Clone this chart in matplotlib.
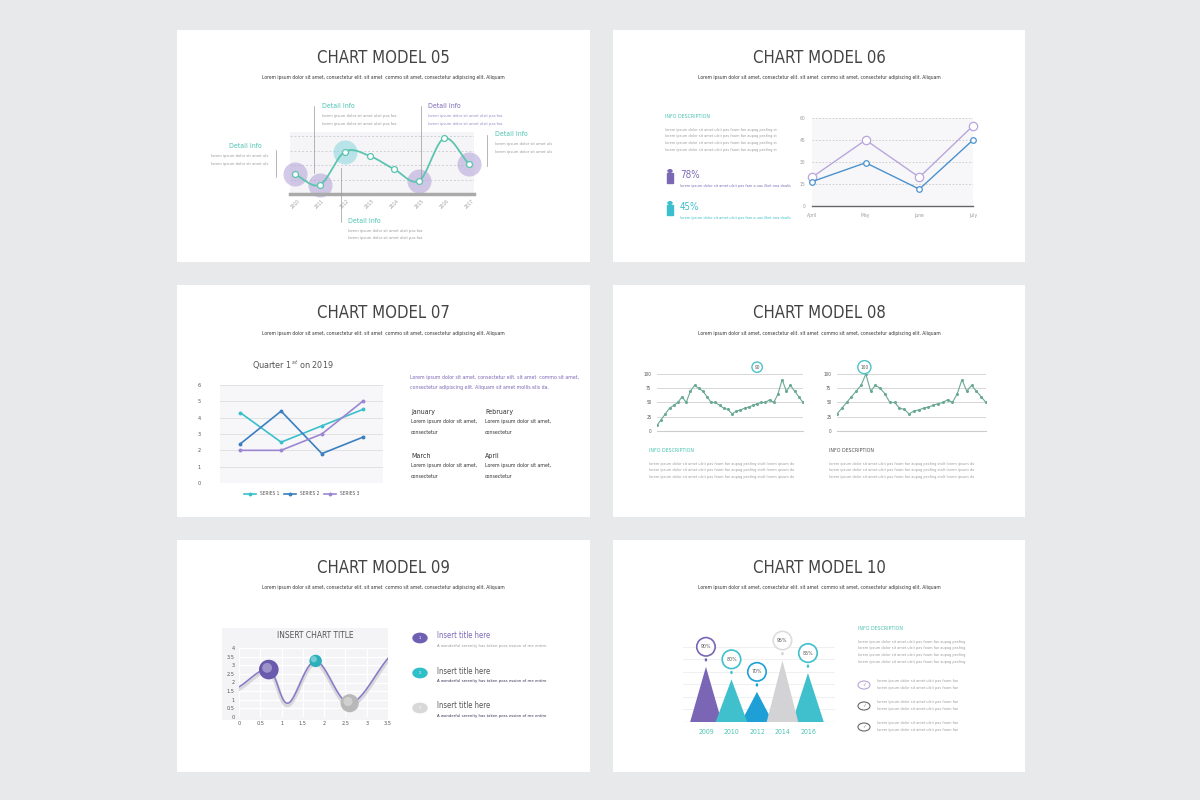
import matplotlib
matplotlib.use("Agg")
import matplotlib.pyplot as plt
import numpy as np
from matplotlib.patches import Rectangle, Polygon, Circle

plt.rcParams['font.family'] = ['DejaVu Sans']
plt.rcParams['font.stretch'] = 'condensed'

# ---------------- data ----------------
years05 = ['2010', '2011', '2012', '2013', '2014', '2015', '2016', '2017']
vals05 = [1.36, 0.64, 2.93, 2.64, 1.71, 0.93, 3.86, 2.07]

months06 = ['April', 'May', 'June', 'July']
purple06 = [19.6, 45, 19.6, 54.7]
blue06 = [16.6, 29.5, 11.5, 45]

cats07 = ['Jan', 'Feb', 'Mar', 'Apr']
series1_07 = [4.3, 2.5, 3.5, 4.5]
series2_07 = [2.4, 4.4, 1.8, 2.8]
series3_07 = [2.0, 2.0, 3.0, 5.0]

left08 = [10, 20, 30, 40, 45, 50, 60, 50, 70, 80, 75, 70, 60, 50, 50, 45, 40, 38, 30, 35,
          37, 40, 42, 45, 48, 50, 50, 55, 50, 65, 90, 70, 80, 70, 60, 50]
right08 = [30, 40, 50, 60, 70, 80, 100, 70, 80, 75, 65, 50, 50, 40, 38, 30, 35, 37, 40, 42,
           45, 48, 50, 55, 50, 65, 90, 70, 80, 70, 60, 50]

x09 = [0.0, 0.7, 1.15, 1.8, 2.6, 3.5]
y09 = [1.75, 2.75, 0.8, 3.25, 0.8, 3.4]
balls09_x = [0.7, 1.8, 2.6]
balls09_y = [2.75, 3.25, 0.8]

years10 = ['2009', '2010', '2012', '2014', '2016']
pct10 = [90, 80, 70, 95, 85]

# ---------------- colours ----------------
TEAL = '#4cc3b3'
CYAN = '#3bbfcc'
PURPLE = '#7b68b5'
BLUE = '#3a7fc0'
LPURP = '#b7a6d9'
GREY = '#555555'
LT = '#9a9a9a'

W, H = 1200, 800
fig = plt.figure(figsize=(12, 8), dpi=100)
fig.patch.set_facecolor('#e8e9eb')


def T(x, y, s, **kw):
    kw.setdefault('color', GREY)
    fig.text(x / W, 1 - y / H, s, **kw)


def AX(x0, y0, x1, y1):
    return fig.add_axes([x0 / W, 1 - y1 / H, (x1 - x0) / W, (y1 - y0) / H])


def FL(xs, ys, **kw):
    fig.add_artist(plt.Line2D([x / W for x in xs], [1 - y / H for y in ys], transform=fig.transFigure, **kw))


def lorem(x, y, n, width=40, ha='left', color=LT, size=3.0, gap=7.5):
    base = 'lorem ipsum dolor sit amet ulsit pas foam fae aupag pesfing stolt lorem ipsum dolor sit amet ulsit pas foam'
    for i in range(n):
        T(x, y + i * gap, base[:width], fontsize=size, color=color, ha=ha, va='center')


def smooth(xs, ys, n=24):
    xs = np.asarray(xs, float); ys = np.asarray(ys, float)
    px = np.concatenate([[2 * xs[0] - xs[1]], xs, [2 * xs[-1] - xs[-2]]])
    py = np.concatenate([[2 * ys[0] - ys[1]], ys, [2 * ys[-1] - ys[-2]]])
    ox, oy = [], []
    t = np.linspace(0, 1, n)
    for i in range(1, len(px) - 2):
        for arr, out in ((px, ox), (py, oy)):
            p0, p1, p2, p3 = arr[i - 1], arr[i], arr[i + 1], arr[i + 2]
            out.extend(0.5 * ((2 * p1) + (-p0 + p2) * t + (2 * p0 - 5 * p1 + 4 * p2 - p3) * t ** 2
                              + (-p0 + 3 * p1 - 3 * p2 + p3) * t ** 3))
    return np.array(ox), np.array(oy)


panels = [(177, 30, 590, 262), (613, 30, 1025, 262), (177, 285, 590, 517),
          (613, 285, 1025, 517), (177, 540, 590, 772), (613, 540, 1025, 772)]
titles = ['CHART MODEL 05', 'CHART MODEL 06', 'CHART MODEL 07', 'CHART MODEL 08',
          'CHART MODEL 09', 'CHART MODEL 10']
sub = 'Lorem ipsum dolor sit amet, consectetur elit. sit amet  commo sit amet, consectetur adipiscing elit. Aliquam'
for (x0, y0, x1, y1), t in zip(panels, titles):
    fig.add_artist(Rectangle((x0 / W, 1 - y1 / H), (x1 - x0) / W, (y1 - y0) / H,
                             transform=fig.transFigure, fc='white', ec='none', zorder=-2))
    cx = (x0 + x1) / 2
    T(cx, y0 + 28, t, fontsize=12, ha='center', va='center', color='#444444')
    T(cx, y0 + 48, sub, fontsize=3.6, ha='center', va='center', color='#333333')

# ---------------- chart 05 ----------------
ax = AX(290, 132, 474, 194)
xi = np.arange(len(vals05))
ax.set_facecolor('#f5f5f7')
ax.set_xlim(-0.2, 7.2); ax.set_ylim(0, 4.3)
for g in [1, 2, 3, 4]:
    ax.axhline(g, color='#cfcfd4', lw=0.7, ls=(0, (2, 2)))
sx, sy = smooth(xi, vals05)
ax.plot(sx, sy, color='#5cc4b0', lw=1.3, zorder=3)
halo_c = [LPURP, LPURP, '#8fd8e0', None, None, LPURP, None, LPURP]
for i, c in enumerate(halo_c):
    if c:
        ax.scatter(xi[i], vals05[i], s=300, color=c, alpha=0.6, zorder=2, lw=0, clip_on=False)
ax.scatter(xi, vals05, s=18, fc='white', ec='#5cc4b0', lw=0.9, zorder=4, clip_on=False)
for s in ['top', 'right', 'left']:
    ax.spines[s].set_visible(False)
ax.spines['bottom'].set_color('#aaaaaa'); ax.spines['bottom'].set_linewidth(2.5)
ax.set_yticks([])
ax.set_xticks(xi)
ax.set_xticklabels(years05, rotation=45, fontsize=3.5, color=LT)
ax.tick_params(length=0, pad=3)
FL([276, 276], [150, 177], color='#999999', lw=0.5)
T(262, 146, 'Detail Info', fontsize=5, color=TEAL, ha='right', va='center')
lorem(268, 156, 2, 30, ha='right')
FL([314, 314], [106, 173], color='#999999', lw=0.5)
T(322, 106, 'Detail Info', fontsize=5, color=TEAL, va='center')
lorem(322, 116, 2, 40)
FL([421, 421], [106, 178], color='#999999', lw=0.5)
T(428, 106, 'Detail Info', fontsize=5, color=PURPLE, va='center')
lorem(428, 116, 2, 40, color='#9b8cc9')
FL([487, 487], [135, 166], color='#999999', lw=0.5)
T(495, 134, 'Detail Info', fontsize=5, color=TEAL, va='center')
lorem(495, 144, 2, 30)
FL([341, 341], [168, 222], color='#999999', lw=0.5)
T(348, 221, 'Detail Info', fontsize=5, color=TEAL, va='center')
lorem(348, 231, 2, 40)

# ---------------- chart 06 ----------------
ax = AX(812, 118, 973, 206)
ax.set_facecolor('#f7f7f9')
ax.set_xlim(0, 3); ax.set_ylim(0, 60)
for g in [15, 30, 45, 60]:
    ax.axhline(g, color='#c8c8c8', lw=0.6, ls=(0, (2, 2)))
ax.plot(range(4), purple06, color='#b8a6dc', lw=1, marker='o', ms=6, mfc='white', mec='#b8a6dc', mew=0.9, clip_on=False)
ax.plot(range(4), blue06, color='#4b91cc', lw=1, marker='o', ms=4, mfc='white', mec='#4b91cc', mew=0.9, clip_on=False)
for s in ['top', 'right', 'left']:
    ax.spines[s].set_visible(False)
ax.spines['bottom'].set_color('#666666'); ax.spines['bottom'].set_linewidth(1)
ax.set_xticks(range(4)); ax.set_xticklabels(months06, fontsize=3.6, color=LT)
ax.set_yticks([0, 15, 30, 45, 60]); ax.set_yticklabels(['0', '15', '30', '45', '60'], fontsize=3.6, color=LT)
ax.tick_params(length=0, pad=5)
T(665, 116, 'INFO DESCRIPTION', fontsize=3.8, color=TEAL, va='center')
lorem(665, 130, 4, 62, gap=6.5, size=2.8)
for yy, p, c in [(175, '78%', PURPLE), (207, '45%', CYAN)]:
    fig.add_artist(Circle((670 / W, 1 - (yy - 4) / H), 2 / W, transform=fig.transFigure, color=c))
    fig.add_artist(Rectangle((667 / W, 1 - (yy + 8) / H), 6 / W, 10 / H, transform=fig.transFigure, color=c))
    T(680, yy, p, fontsize=7, color=c, va='center')
    T(680, yy + 11, 'lorem ipsum dolor sit amet ulsit pas fam a uas illoit nea doalis', fontsize=2.8, color=c, va='center')

# ---------------- chart 07 ----------------
ax = AX(220, 385, 383, 483)
ax.set_facecolor('#f7f7f9')
ax.set_xlim(-0.5, 3.5); ax.set_ylim(0, 6)
ax.grid(axis='y', color='#dddddd', lw=0.6)
ax.set_axisbelow(True)
ax.plot(range(4), series1_07, color=CYAN, lw=1.2, marker='o', ms=1.8, label='SERIES 1')
ax.plot(range(4), series2_07, color=BLUE, lw=1.2, marker='o', ms=1.8, label='SERIES 2')
ax.plot(range(4), series3_07, color='#9c86d2', lw=1.2, marker='o', ms=1.8, label='SERIES 3')
for s in ax.spines.values():
    s.set_visible(False)
ax.set_xticks([])
ax.set_yticks(range(7)); ax.set_yticklabels([str(i) for i in range(7)], fontsize=4, color=GREY)
ax.tick_params(length=0, pad=14)
ax.legend(loc='upper center', bbox_to_anchor=(0.5, -0.04), ncol=3, frameon=False, fontsize=3.5,
          handlelength=2.5, columnspacing=1, labelcolor=GREY)
T(293, 365, 'Quarter 1$^{st}$ on 2019', fontsize=6.5, ha='center', va='center')
T(410, 378, 'Lorem ipsum dolor sit amet, consectetur elit. sit amet  commo sit amet,', fontsize=3.8, color=PURPLE, va='center')
T(410, 387, 'consectetur adipiscing elit. Aliquam sit amet mollis elis da.', fontsize=3.8, color=PURPLE, va='center')
for xx, yy, m in [(411, 412, 'January'), (485, 412, 'February'), (411, 456, 'March'), (485, 456, 'April')]:
    T(xx, yy, m, fontsize=5, color='#333333', va='center')
    T(xx, yy + 10, 'Lorem ipsum dolor sit amet,', fontsize=3.8, color='#333333', va='center')
    T(xx, yy + 20, 'consectetur', fontsize=3.8, color='#333333', va='center')

# ---------------- chart 08 ----------------
for (x0, x1, data, lab, labc) in [(657, 803, left08, '90', TEAL), (837, 986, right08, '100', '#555555')]:
    ax = AX(x0, 374, x1, 431)
    ax.set_xlim(0, len(data) - 1); ax.set_ylim(0, 100)
    ax.grid(axis='y', color='#d0d0d0', lw=0.6)
    ax.set_axisbelow(True)
    ax.plot(range(len(data)), data, color='#6aa995', lw=0.8, marker='o', ms=1.2)
    for s in ['top', 'right', 'left']:
        ax.spines[s].set_visible(False)
    ax.spines['bottom'].set_color('#cccccc')
    ax.set_xticks([])
    ax.set_yticks([0, 25, 50, 75, 100]); ax.set_yticklabels(['0', '25', '50', '75', '100'], fontsize=3.3, color=GREY)
    ax.tick_params(length=0, pad=4)
    pk = int(np.argmax(data))
    ax.annotate(str(max(data)), (pk, max(data)), xytext=(pk - 0.3 if lab == '100' else pk - 6, 112),
                fontsize=3.5, color=GREY, ha='center', va='center', annotation_clip=False,
                bbox=dict(boxstyle='circle,pad=0.5', fc='white', ec='#4cc3c8', lw=1))
    T(x0 - 8, 450, 'INFO DESCRIPTION', fontsize=3.8, color=labc, va='center')
    lorem(x0 - 8, 464, 3, 80, gap=6.5, size=2.8)

# ---------------- chart 09 ----------------
fig.add_artist(Rectangle((222 / W, 1 - 720 / H), 166 / W, 92 / H, transform=fig.transFigure,
                         fc='#f4f4f6', ec='none', zorder=-1))
ax = AX(239, 648, 388, 717)
ax.set_facecolor('#f4f4f6')
ax.set_xlim(0, 3.5); ax.set_ylim(0, 4)
ax.set_xticks(np.arange(0, 3.51, 0.5)); ax.set_yticks(np.arange(0, 4.01, 0.5))
ax.set_xticklabels(['0', '0.5', '1', '1.5', '2', '2.5', '3', '3.5'], fontsize=4, color=GREY)
ax.set_yticklabels(['0', '0.5', '1', '1.5', '2', '2.5', '3', '3.5', '4'], fontsize=4, color=GREY)
ax.grid(color='white', lw=0.9)
ax.tick_params(length=0, pad=3)
for s in ax.spines.values():
    s.set_visible(False)
sx, sy = smooth(x09, y09)
ax.plot(sx, sy - 0.12, color='#d8d8dc', lw=3, zorder=2)
ax.plot(sx, sy, color='#8a78c9', lw=1.1, zorder=3)
for bx, by, s, c in zip(balls09_x, balls09_y, [200, 80, 170], ['#6a5aae', '#2ab0bb', '#b8b8b8']):
    ax.scatter(bx, by, s=s, color=c, zorder=4, ec='none', clip_on=False)
    ax.scatter(bx - 0.04, by + 0.1, s=s * 0.25, color='white', alpha=0.35, zorder=5, ec='none', clip_on=False)
T(315, 635, 'INSERT CHART TITLE', fontsize=6, ha='center', va='center', color='#555555')
for yy, n, c, tc, bc in [(636, '1', '#6f5fb3', PURPLE, LT), (671, '2', '#2fbfc9', GREY, '#333355'),
                          (706, '3', '#d8d8d8', GREY, '#333355')]:
    fig.add_artist(Circle((420 / W, 1 - (yy + 2) / H), 7 / W, transform=fig.transFigure, color=c))
    T(420, yy + 2, n, fontsize=3, color='white', ha='center', va='center')
    T(437, yy, 'Insert title here', fontsize=5.5, color=tc, va='center')
    T(437, yy + 10, 'A wonderful serenity has taken poss ession of me entire', fontsize=3.1, color=bc, va='center')

# ---------------- chart 10 ----------------
ax = AX(683, 628, 835, 722)
ax.set_xlim(-0.9, 5.06); ax.set_ylim(46, 121)
for g in [56, 66, 76, 86, 96, 106]:
    ax.axhline(g, color='#eeeeee', lw=0.6, zorder=0)
ax.axhline(46, color='#e8e8e8', lw=1, zorder=0)
cols10 = ['#7a66b5', '#3fc0cc', '#1ea0d6', '#d3d3d5', '#3fc0cc']
for i, (v, c) in enumerate(zip(pct10, cols10)):
    ax.add_patch(Polygon([[i - 0.62, 46], [i, v], [i + 0.62, 46]], closed=True, fc=c, ec='none', zorder=2 + (i % 2)))
    ax.annotate(f'{v}%', (i, v + 3), xytext=(i, v + 16), fontsize=3.8, color=GREY, ha='center', va='center',
                annotation_clip=False,
                bbox=dict(boxstyle='circle,pad=0.75', fc='white', ec=c if c != '#d3d3d5' else '#dddddd', lw=1.2),
                arrowprops=dict(arrowstyle='-', color=c, lw=1.8), zorder=6)
for s in ax.spines.values():
    s.set_visible(False)
ax.set_xticks(range(5)); ax.set_xticklabels(years10, fontsize=5, color=TEAL)
ax.set_yticks([])
ax.tick_params(length=0, pad=5)
T(858, 629, 'INFO DESCRIPTION', fontsize=3.8, color=TEAL, va='center')
lorem(858, 642, 4, 60, gap=6.5, size=2.8)
for yy, c in [(685, LPURP), (706, '#666666'), (727, '#666666')]:
    fig.add_artist(Circle((864 / W, 1 - yy / H), 6 / W, transform=fig.transFigure, fc='white', ec=c, lw=0.8))
    T(864, yy, '✓', fontsize=4, color=LT, ha='center', va='center')
    lorem(877, yy - 4, 2, 45, gap=7, size=2.8)

fig.savefig('out.png', dpi=100, facecolor=fig.get_facecolor())
